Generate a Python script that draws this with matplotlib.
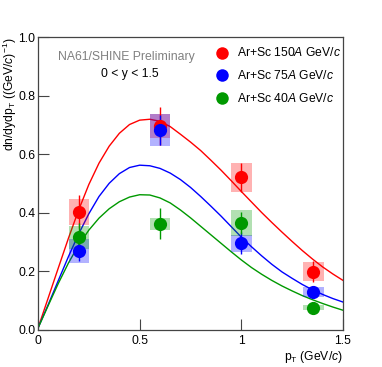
import numpy as np
import matplotlib
matplotlib.use("Agg")
import matplotlib.pyplot as plt

# --- DATA ---
pt_curve = [0.0, 0.05, 0.1, 0.15, 0.2, 0.25, 0.3, 0.35, 0.4, 0.45, 0.5, 0.55,
            0.6, 0.65, 0.7, 0.75, 0.8, 0.85, 0.9, 0.95, 1.0, 1.05, 1.1, 1.15,
            1.2, 1.25, 1.3, 1.35, 1.4, 1.45, 1.5]
fit_150 = [0.005, 0.108, 0.211, 0.313, 0.409, 0.496, 0.569, 0.627, 0.671, 0.701, 0.716, 0.719,
           0.712, 0.694, 0.668, 0.641, 0.612, 0.579, 0.545, 0.509, 0.472, 0.436, 0.400, 0.366,
           0.333, 0.301, 0.270, 0.241, 0.214, 0.190, 0.168]
fit_75 = [0.005, 0.085, 0.168, 0.250, 0.327, 0.396, 0.455, 0.500, 0.533, 0.554, 0.562, 0.560,
          0.551, 0.535, 0.513, 0.486, 0.455, 0.422, 0.388, 0.352, 0.316, 0.283, 0.252, 0.223,
          0.197, 0.175, 0.154, 0.136, 0.120, 0.106, 0.094]
fit_40 = [0.005, 0.082, 0.158, 0.228, 0.289, 0.340, 0.381, 0.413, 0.437, 0.453, 0.461, 0.460,
          0.450, 0.433, 0.409, 0.382, 0.353, 0.324, 0.295, 0.266, 0.238, 0.212, 0.189, 0.168,
          0.149, 0.132, 0.116, 0.102, 0.089, 0.077, 0.066]

pt_150 = [0.2, 0.6, 1.0, 1.354]
y_150 = [0.403, 0.695, 0.520, 0.198]
stat_150 = [0.056, 0.065, 0.050, 0.037]
sys_150 = [0.045, 0.041, 0.049, 0.033]

pt_75 = [0.2, 0.6, 1.0, 1.354]
y_75 = [0.270, 0.682, 0.295, 0.129]
stat_75 = [0.035, 0.050, 0.038, 0.020]
sys_75 = [0.041, 0.054, 0.029, 0.016]

pt_40 = [0.2, 0.6, 1.0, 1.354]
y_40 = [0.315, 0.362, 0.365, 0.075]
stat_40 = [0.050, 0.053, 0.038, 0.010]
sys_40 = [0.039, 0.021, 0.044, 0.009]

labels = ["Ar+Sc 150$\\mathit{A}$ GeV/$\\mathit{c}$",
          "Ar+Sc 75$\\mathit{A}$ GeV/$\\mathit{c}$",
          "Ar+Sc 40$\\mathit{A}$ GeV/$\\mathit{c}$"]
colors = ["#ff0000", "#0000ff", "#009900"]
box_halfwidth = 0.05

# --- STYLE ---
plt.rcParams["font.family"] = ["Liberation Sans", "DejaVu Sans"]
plt.rcParams["mathtext.fontset"] = "custom"
plt.rcParams["mathtext.rm"] = "Liberation Sans"
plt.rcParams["mathtext.it"] = "Liberation Sans:italic"

fig = plt.figure(figsize=(3.82, 3.67), dpi=100)
ax = fig.add_axes([0.0995, 0.102, 0.7985, 0.797])

series = [
    (pt_150, y_150, stat_150, sys_150, fit_150),
    (pt_75, y_75, stat_75, sys_75, fit_75),
    (pt_40, y_40, stat_40, sys_40, fit_40),
]

# fit curves first, then boxes + points on top
for (x, y, stat, sysv, fit), color in zip(series, colors):
    ax.plot(pt_curve, fit, color=color, lw=1.0, zorder=2)
for (x, y, stat, sysv, fit), color in zip(series, colors):
    for xi, yi, si in zip(x, y, sysv):
        ax.add_patch(plt.Rectangle((xi - box_halfwidth, yi - si), 2 * box_halfwidth, 2 * si,
                                   facecolor=color, alpha=0.3, edgecolor="none", zorder=3))
    ax.errorbar(x, y, yerr=stat, fmt="o", color=color, ms=9.5, mew=0,
                elinewidth=1.0, capsize=1.5, capthick=1.0, zorder=4)

ax.set_xlim(0, 1.5)
ax.set_ylim(0, 1.0)
ax.set_xticks([0, 0.5, 1, 1.5])
ax.set_xticklabels(["0", "0.5", "1", "1.5"])
ax.set_yticks([0, 0.2, 0.4, 0.6, 0.8, 1.0])
ax.set_yticklabels(["0.0", "0.2", "0.4", "0.6", "0.8", "1.0"])
ax.tick_params(direction="in", length=8, width=0.8, labelsize=8.7, color="#444444")
ax.tick_params(axis="x", pad=4)
ax.tick_params(axis="y", pad=2)
for s in ax.spines.values():
    s.set_linewidth(0.9)
    s.set_color("#444444")

ax.set_xlabel("p$_{\\mathrm{T}}$ (GeV/$\\mathit{c}$)", fontsize=8.7, ha="right")
ax.xaxis.set_label_coords(1.0, -0.068)
ax.set_ylabel("dn/dydp$_{\\mathrm{T}}$ ((GeV/$\\mathit{c}$)$^{-1}$)", fontsize=8.7,
              ha="right", va="center")
ax.yaxis.set_label_coords(-0.092, 1.0)

ax.text(0.29, 0.933, "NA61/SHINE Preliminary", transform=ax.transAxes, ha="center", va="center",
        fontsize=8.8, color="#808080")
ax.text(0.30, 0.875, "0 < y < 1.5", transform=ax.transAxes, ha="center", va="center", fontsize=8.7)

# legend
leg_y = [0.946, 0.870, 0.790]
for ly, color, label in zip(leg_y, colors, labels):
    ax.plot([0.602], [ly], "o", color=color, ms=9, mew=0, transform=ax.transAxes, clip_on=False)
    ax.text(0.652, ly, label, transform=ax.transAxes, ha="left", va="center", fontsize=8.7)

fig.savefig("out.png", dpi=100)
